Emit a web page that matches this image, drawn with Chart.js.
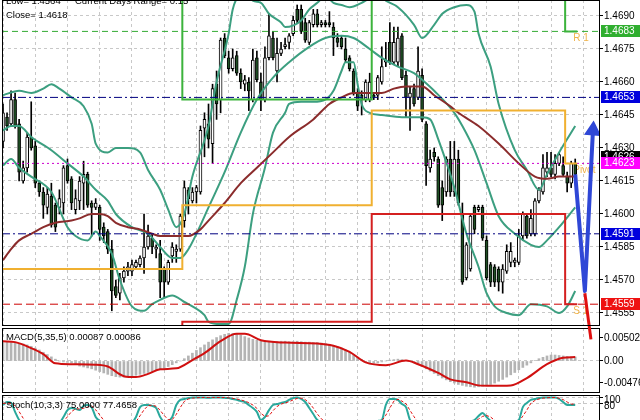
<!DOCTYPE html>
<html>
<head>
<meta charset="utf-8">
<script src="https://cdn.jsdelivr.net/npm/chart.js@4.4.0/dist/chart.umd.min.js"></script>
<style>
  html, body { margin: 0; padding: 0; background: #fff; width: 640px; height: 420px; overflow: hidden; position: relative; }
  canvas { position: absolute; left: 0; }
  #main { top: 0; z-index: 3; }
  #macd { top: 328px; z-index: 1; }
  #stoch { top: 395px; z-index: 1; }
  .info { position: absolute; left: 6px; font: 9.5px "Liberation Sans", Arial, sans-serif; line-height: 12px; color: #000; z-index: 4; white-space: pre; }
</style>
</head>
<body>
<canvas id="main" width="640" height="346"></canvas>
<canvas id="macd" width="640" height="65"></canvas>
<canvas id="stoch" width="640" height="38"></canvas>
<div class="info" style="top:-5px">Low= 1.4564</div>
<div class="info" style="top:-5px;left:75px">Current Days Range= 0.15</div>
<div class="info" style="top:9px">Close= 1.4618</div>
<div class="info" style="top:331px">MACD(5,35,5) 0.00087 0.00086</div>
<div class="info" style="top:399px">Stoch(10,3,3) 75.0000 77.4658</div>
<script>
// ---- price candles (one per 30 min bar) ----
const opens = [
  1.4633,1.4644,1.4641,1.4652,1.4641,1.4615,1.4621,1.4635,1.4631,1.4614,
  1.4610,1.4603,1.4608,1.4604,1.4603,1.4605,1.4622,1.4616,1.4602,1.4606,
  1.4614,1.4618,1.4605,1.4603,1.4603,1.4594,1.4592,1.4584,1.4567,1.4564,
  1.4571,1.4574,1.4574,1.4576,1.4577,1.4580,1.4585,1.4589,1.4584,1.4582,
  1.4575,1.4569,1.4581,1.4583,1.4584,1.4597,1.4611,1.4606,1.4610,1.4610,
  1.4639,1.4641,1.4632,1.4659,1.4652,1.4680,1.4671,1.4666,1.4672,1.4664,
  1.4659,1.4660,1.4652,1.4671,1.4660,1.4652,1.4671,1.4680,1.4665,1.4673,
  1.4676,1.4678,1.4682,1.4693,1.4693,1.4687,1.4678,1.4686,1.4691,1.4686,
  1.4687,1.4687,1.4685,1.4680,1.4680,1.4675,1.4671,1.4665,1.4655,1.4654,
  1.4652,1.4652,1.4654,1.4654,1.4660,1.4669,1.4678,1.4669,1.4669,1.4681,
  1.4663,1.4653,1.4657,1.4653,1.4663,1.4641,1.4621,1.4628,1.4625,1.4612,
  1.4610,1.4625,1.4610,1.4625,1.4600,1.4571,1.4575,1.4603,1.4602,1.4603,
  1.4588,1.4577,1.4576,1.4575,1.4569,1.4574,1.4578,1.4578,1.4578,1.4590,
  1.4599,1.4591,1.4591,1.4606,1.4610,1.4619,1.4621,1.4618,1.4623,1.4622,
  1.4617,1.4614,1.4623
];
const highs = [
  1.4650,1.4646,1.4656,1.4655,1.4643,1.4624,1.4637,1.4651,1.4633,1.4615,
  1.4612,1.4612,1.4614,1.4605,1.4611,1.4622,1.4625,1.4617,1.4611,1.4617,
  1.4624,1.4619,1.4606,1.4607,1.4604,1.4596,1.4593,1.4588,1.4570,1.4573,
  1.4576,1.4578,1.4579,1.4579,1.4581,1.4600,1.4595,1.4591,1.4586,1.4588,
  1.4576,1.4579,1.4587,1.4586,1.4600,1.4615,1.4612,1.4612,1.4613,1.4640,
  1.4646,1.4650,1.4659,1.4665,1.4680,1.4682,1.4674,1.4675,1.4674,1.4666,
  1.4663,1.4662,1.4675,1.4674,1.4664,1.4676,1.4691,1.4683,1.4680,1.4678,
  1.4680,1.4682,1.4690,1.4695,1.4695,1.4689,1.4688,1.4693,1.4693,1.4688,
  1.4688,1.4692,1.4687,1.4682,1.4681,1.4680,1.4672,1.4666,1.4657,1.4656,
  1.4661,1.4664,1.4655,1.4663,1.4676,1.4678,1.4687,1.4685,1.4685,1.4682,
  1.4665,1.4658,1.4659,1.4676,1.4666,1.4642,1.4629,1.4630,1.4626,1.4615,
  1.4626,1.4633,1.4633,1.4629,1.4605,1.4587,1.4600,1.4604,1.4604,1.4604,
  1.4590,1.4578,1.4577,1.4576,1.4577,1.4586,1.4587,1.4580,1.4593,1.4601,
  1.4600,1.4602,1.4607,1.4612,1.4627,1.4628,1.4628,1.4627,1.4628,1.4626,
  1.4619,1.4624,1.4625
];
const lows = [
  1.4630,1.4638,1.4640,1.4639,1.4615,1.4614,1.4619,1.4629,1.4612,1.4608,
  1.4598,1.4600,1.4594,1.4592,1.4600,1.4600,1.4614,1.4602,1.4600,1.4602,
  1.4602,1.4603,1.4590,1.4602,1.4588,1.4587,1.4582,1.4556,1.4562,1.4561,
  1.4569,1.4572,1.4572,1.4575,1.4576,1.4573,1.4584,1.4582,1.4580,1.4562,
  1.4562,1.4568,1.4578,1.4578,1.4583,1.4594,1.4600,1.4605,1.4605,1.4609,
  1.4626,1.4630,1.4623,1.4643,1.4646,1.4671,1.4664,1.4665,1.4663,1.4657,
  1.4656,1.4647,1.4651,1.4660,1.4647,1.4651,1.4670,1.4670,1.4660,1.4672,
  1.4675,1.4675,1.4681,1.4687,1.4682,1.4678,1.4677,1.4685,1.4685,1.4685,
  1.4685,1.4685,1.4672,1.4676,1.4675,1.4669,1.4665,1.4654,1.4647,1.4645,
  1.4651,1.4651,1.4652,1.4652,1.4659,1.4667,1.4668,1.4668,1.4667,1.4661,
  1.4644,1.4638,1.4649,1.4652,1.4642,1.4613,1.4619,1.4624,1.4603,1.4597,
  1.4608,1.4608,1.4608,1.4604,1.4568,1.4570,1.4574,1.4591,1.4601,1.4588,
  1.4570,1.4567,1.4567,1.4565,1.4564,1.4573,1.4576,1.4576,1.4577,1.4588,
  1.4589,1.4590,1.4590,1.4605,1.4609,1.4617,1.4617,1.4616,1.4622,1.4617,
  1.4610,1.4612,1.4617
];
const closes = [
  1.4646,1.4640,1.4652,1.4640,1.4619,1.4621,1.4635,1.4630,1.4614,1.4610,
  1.4604,1.4609,1.4595,1.4594,1.4607,1.4621,1.4615,1.4605,1.4607,1.4615,
  1.4618,1.4604,1.4603,1.4605,1.4593,1.4590,1.4584,1.4565,1.4563,1.4571,
  1.4574,1.4576,1.4577,1.4578,1.4580,1.4585,1.4590,1.4585,1.4585,1.4569,
  1.4569,1.4578,1.4585,1.4584,1.4599,1.4612,1.4607,1.4610,1.4612,1.4638,
  1.4643,1.4634,1.4657,1.4650,1.4679,1.4672,1.4666,1.4671,1.4664,1.4660,
  1.4661,1.4656,1.4670,1.4661,1.4652,1.4671,1.4681,1.4671,1.4673,1.4675,
  1.4677,1.4681,1.4688,1.4688,1.4683,1.4679,1.4687,1.4691,1.4686,1.4687,
  1.4686,1.4686,1.4680,1.4678,1.4676,1.4670,1.4666,1.4655,1.4649,1.4652,
  1.4660,1.4660,1.4653,1.4662,1.4667,1.4670,1.4669,1.4678,1.4680,1.4662,
  1.4653,1.4655,1.4650,1.4665,1.4643,1.4622,1.4625,1.4626,1.4604,1.4604,
  1.4625,1.4610,1.4625,1.4605,1.4569,1.4586,1.4599,1.4593,1.4603,1.4589,
  1.4571,1.4569,1.4569,1.4569,1.4575,1.4583,1.4583,1.4579,1.4590,1.4600,
  1.4590,1.4598,1.4606,1.4611,1.4621,1.4621,1.4618,1.4623,1.4627,1.4618,
  1.4614,1.4623,1.4618
];

// ---- bollinger bands, sampled at bar numbers ----
const upperBars = [0,4,7,10,12,14,17,20,22,23,26,28,31,34,36,39,41,43,45,47,51,53,56,57,59,60,62,64,66,69,
  70,74,76,78,80,82,84,86,89,90,93,95,98,102,104,107,109,112,115,117,118,121,123,127,130,133,135,138,142];
const upperBand = [1.4654,1.4656,1.4655,1.4657,1.4659,1.4657,1.4653,1.4649,1.4641,1.4632,
  1.4628,1.4630,1.4630,1.4628,1.4620,1.4611,1.4602,1.4594,1.4600,1.4617,
  1.4640,1.4660,1.4682,1.4693,1.4701,1.4703,1.4697,1.4696,1.4691,1.4687,
  1.4685,1.4688,1.4693,1.4696,1.4699,1.4696,1.4695,1.4694,1.4696,1.4697,
  1.4700,1.4697,1.4694,1.4686,1.4680,1.4686,1.4691,1.4694,1.4695,1.4692,
  1.4682,1.4667,1.4650,1.4629,1.4620,1.4611,1.4618,1.4628,1.4640];
const middleBars = [0,2,4,7,12,16,20,23,26,28,32,36,39,42,44,46,48,51,55,59,63,67,71,76,80,84,87,91,94,98,
  102,104,107,112,114,117,120,123,127,131,133,135,138,142];
const middleBand = [1.4638,1.4640,1.4640,1.4635,1.4629,1.4623,1.4617,1.4611,1.4606,1.4600,
  1.4594,1.4591,1.4585,1.4580,1.4580,1.4584,1.4591,1.4603,1.4619,1.4637,
  1.4652,1.4662,1.4669,1.4676,1.4680,1.4681,1.4680,1.4675,1.4671,1.4667,
  1.4664,1.4661,1.4656,1.4646,1.4640,1.4629,1.4614,1.4599,1.4591,1.4586,
  1.4585,1.4588,1.4594,1.4603];
const lowerBars = [0,2,4,7,12,16,18,21,23,24,27,29,32,35,37,39,42,45,47,50,51,54,56,58,60,62,65,67,70,71,
  74,77,80,82,84,85,87,88,89,91,94,99,104,106,108,112,115,118,120,122,125,128,131,135,138,140,142];
const lowerBand = [1.4622,1.4625,1.4621,1.4617,1.4610,1.4594,1.4590,1.4588,1.4592,1.4590,
  1.4582,1.4570,1.4558,1.4556,1.4559,1.4561,1.4563,1.4560,1.4558,1.4554,
  1.4551,1.4550,1.4550,1.4561,1.4576,1.4600,1.4621,1.4637,1.4646,1.4650,
  1.4651,1.4651,1.4652,1.4656,1.4665,1.4669,1.4669,1.4659,1.4650,1.4646,
  1.4645,1.4644,1.4644,1.4643,1.4634,1.4612,1.4591,1.4576,1.4564,1.4558,
  1.4555,1.4554,1.4559,1.4558,1.4555,1.4558,1.4565];

// ---- moving average ----
const maBars = [0,2,4,7,10,13,17,19,22,24,26,28,31,34,37,39,41,44,46,49,51,55,59,63,67,71,77,81,84,87,
  90,94,97,100,104,107,111,113,118,123,128,132,135,138,142];
const maLine = [1.4579,1.4584,1.4588,1.4591,1.4594,1.4596,1.4597,1.4598,1.4600,1.4600,
  1.4599,1.4596,1.4594,1.4593,1.4591,1.4590,1.4590,1.4590,1.4590,1.4593,
  1.4597,1.4605,1.4614,1.4621,1.4628,1.4635,1.4643,1.4650,1.4653,1.4655,
  1.4655,1.4655,1.4657,1.4658,1.4658,1.4654,1.4649,1.4646,1.4640,1.4632,
  1.4623,1.4617,1.4616,1.4617,1.4617];

// ---- daily pivot levels ----
const dayStarts = [0, 45, 92, 140];
const r1Levels = [1.4712, 1.4652, 1.4708, 1.4683];
const pivotLevels = [1.4575, 1.4604, 1.4647, 1.4623];
const s1Levels = [1.4530, 1.4551, 1.4600, 1.4559];
const pivotNames = ['R 1', 'Pivot', 'S 1'];

// ---- horizontal lines and price tags ----
const levelPrices = [1.4683, 1.4653, 1.4623, 1.4591, 1.4559];
const tagPrices = [1.4683, 1.4653, 1.4626, 1.4623, 1.4591, 1.4559];
const priceTicks = [1.4555, 1.4570, 1.4585, 1.4600, 1.4615, 1.4630, 1.4645, 1.4660, 1.4675, 1.4690];

// ---- forecast arrows ----
const upArrowBars = [142, 144.4, 146.4];
const upArrowVals = [1.4618, 1.4565, 1.4638];
const downArrowBars = [144.4, 145.9];
const downArrowVals = [1.4564, 1.4543];

// ---- MACD ----
const macdHist = [
  0.0040,0.0041,0.0040,0.0039,0.0038,0.0037,
  0.0035,0.0032,0.0028,0.0024,0.0019,0.0014,0.0009,0.0004,
  0.0000,-0.0002,-0.0003,-0.0004,
  -0.0008,-0.0011,-0.0013,-0.0015,-0.0017,-0.0020,-0.0023,-0.0026,
  -0.0029,-0.0032,-0.0034,-0.0035,-0.0035,-0.0034,-0.0033,-0.0031,
  -0.0029,-0.0027,-0.0025,-0.0023,-0.0021,-0.0019,-0.0016,-0.0012,-0.0008,
  -0.0004,0.0000,0.0005,
  0.0011,0.0017,0.0023,0.0029,0.0035,0.0041,0.0046,0.0051,0.0055,
  0.0058,0.0060,0.0060,0.0059,0.0056,0.0053,
  0.0050,0.0047,0.0045,0.0044,
  0.0043,0.0043,0.0042,0.0042,0.0043,0.0043,0.0042,0.0042,0.0043,0.0042,0.0041,0.0041,0.0040,0.0040,0.0039,0.0038,
  0.0036,0.0034,0.0031,0.0028,0.0024,0.0019,0.0014,0.0008,
  0.0003,-0.0002,-0.0004,-0.0005,-0.0004,-0.0002,0.0000,
  0.0002,0.0003,0.0004,0.0003,0.0001,-0.0001,
  -0.0004,-0.0008,-0.0012,-0.0017,-0.0022,-0.0027,-0.0032,-0.0037,-0.0041,
  -0.0045,-0.0048,-0.0051,-0.0053,-0.0055,-0.0056,-0.0057,-0.0056,-0.0055,-0.0053,-0.0051,
  -0.0048,-0.0044,-0.0040,-0.0035,-0.0030,-0.0025,-0.0019,
  -0.0014,-0.0009,-0.0004,0.0001,0.0005,0.0008,
  0.0011,0.0013,0.0013,0.0012,0.0011,0.0010,0.0009,0.00087
];
const signalBars = [0,3,7,10,13,17,23,26,30,33,36,39,43,47,50,54,58,60,64,70,
  78,82,86,90,95,100,103,108,111,115,118,121,126,130,135,139,142];
const macdSignal = [0.0043,0.0041,0.0028,0.0015,-0.0005,-0.0007,-0.0008,-0.0012,-0.0033,-0.0035,
  -0.0028,-0.0018,-0.0016,0.0002,0.0017,0.0043,0.0059,0.0059,0.0045,0.0040,
  0.0038,0.0033,0.0020,-0.0003,-0.0009,0.0001,-0.0007,-0.0026,-0.0040,-0.0046,
  -0.0053,-0.0054,-0.0053,-0.0037,-0.0007,0.0007,0.00086];
const macdTicks = [-0.00476, 0, 0.00502];

// ---- Stochastic ----
const stochMain = [
  75,85,82,52,25,15,8,5,10,5, 3,8,12,10,15,35,58,65,62,58,
  72,75,68,35,22,15,8,5,3,2, 5,8,15,35,68,75,75,72,65,35,
  20,22,35,75,92,95,98,100,100,100, 100,99,100,100,100,99,98,95,92,88,
  85,75,65,52,25,35,58,75,78,82, 85,92,98,100,95,85,65,45,25,18,
  12,8,5,8,15,10,5,3,2,5, 10,15,20,22,25,75,95,95,92,78,
  68,25,15,8,5,3,5,8,12,10, 5,3,2,5,10,15,20,25,38,48,
  35,22,15,10,8,10,15,20,25,68, 82,92,95,98,100,100,100,100,95,85,
  75,75,75
];
const stochSignal = [
  80,82,80,73,53,31,16,9,8,7, 6,5,8,10,12,20,36,53,62,62,
  64,68,72,59,42,24,15,9,5,3, 3,5,9,19,39,59,73,74,71,57,
  40,26,26,44,67,87,95,98,99,100, 100,100,100,100,100,100,99,97,95,92,
  88,83,75,64,47,37,39,56,70,78, 82,86,92,97,98,93,82,65,45,29,
  18,13,8,7,9,11,10,6,3,3, 6,10,15,19,22,41,65,88,94,88,
  79,57,36,16,9,5,4,5,8,10, 9,6,3,3,6,10,15,20,28,37,
  40,35,24,16,11,9,11,15,20,38, 58,81,90,95,98,99,100,100,98,93,
  85,78,77.4658
];
const stochTicks = [80, 100];

// ---------------------------------------------------------------
Chart.defaults.font.family = '"Liberation Sans", Arial, sans-serif';
Chart.defaults.font.size = 10;
Chart.defaults.color = '#000';

const bars = opens.map((_, i) => i);
const lastBar = bars[bars.length - 1];
const xMin = -0.25, xMax = 148.15;
const pts = (xs, ys) => xs.map((x, k) => ({ x: x, y: ys[k] }));

function stepData(levels) {
  const out = [];
  levels.forEach((v, k) => {
    const a = dayStarts[k] - 0.5;
    const b = k + 1 < dayStarts.length ? dayStarts[k + 1] - 0.5 : lastBar + 0.5;
    out.push({ x: a, y: v }, { x: b, y: v });
  });
  return out;
}

function line(data, color, width, order, extra) {
  return Object.assign({ type: 'line', data: data, borderColor: color, borderWidth: width,
    pointRadius: 0, fill: false, order: order }, extra || {});
}

const xScale = () => ({
  type: 'linear', min: xMin, max: xMax, offset: false,
  afterBuildTicks: s => { s.ticks = bars.filter(i => i % 8 === 0).concat([144]).map(v => ({ value: v })); },
  ticks: { display: false },
  grid: { color: '#c8c8c8', drawTicks: false, offset: false },
  border: { display: false, dash: [3, 3] }
});

// right axis with fixed width and no label overhang padding
const yRight = (min, max, ticks, fmt, extra) => Object.assign({
  position: 'right', min: min, max: max,
  afterBuildTicks: s => { s.ticks = ticks.map(v => ({ value: v })); },
  afterFit: s => { s.width = 40; s.paddingTop = 0; s.paddingBottom = 0; },
  ticks: { padding: 1, callback: fmt, font: { size: 10 } },
  grid: { color: '#c8c8c8', drawTicks: true, tickLength: 3, tickColor: '#000', tickBorderDash: [] },
  border: { display: false, dash: [3, 3] }
}, extra || {});

const frame = {
  id: 'frame',
  afterDraw(c) {
    const a = c.chartArea, ctx = c.ctx;
    ctx.save();
    ctx.strokeStyle = '#000';
    ctx.lineWidth = 1;
    ctx.strokeRect(a.left + 0.5, a.top + 0.5, a.right - a.left - 1, a.bottom - a.top - 1);
    ctx.restore();
  }
};

const tagColors = ['#2fae2f', '#0000dd', '#000000', '#ff00ff', '#0000dd', '#ee1111'];
const priceTags = {
  id: 'priceTags',
  beforeDatasetsDraw(c) {
    const ctx = c.ctx, xs = c.scales.x, ys = c.scales.y;
    const lv = [r1Levels, pivotLevels, s1Levels].map(a => a[a.length - 1]);
    ctx.save();
    ctx.font = '10px "Liberation Sans", Arial, sans-serif';
    ctx.fillStyle = '#f0b34a';
    ctx.textBaseline = 'middle';
    lv.forEach((v, k) => ctx.fillText(pivotNames[k], xs.getPixelForValue(lastBar) - 2, ys.getPixelForValue(v) + 7));
    ctx.restore();
  },
  afterDraw(c) {
    const ctx = c.ctx, ys = c.scales.y, r = c.chartArea.right;
    ctx.save();
    ctx.font = '10px "Liberation Sans", Arial, sans-serif';
    ctx.textBaseline = 'middle';
    tagPrices.forEach((v, k) => {
      const py = Math.round(ys.getPixelForValue(v));
      ctx.fillStyle = tagColors[k];
      ctx.fillRect(r + 1, py - 6, 40, 12);
      ctx.fillStyle = '#fff';
      ctx.fillText(v.toFixed(4), r + 4, py + 0.5);
    });
    ctx.restore();
  }
};

const common = {
  responsive: false, animation: false, events: [],
  plugins: { legend: { display: false }, tooltip: { enabled: false } }
};
const panelLayout = bottom => ({ autoPadding: false, padding: { left: 2, right: 0, top: 0, bottom: bottom } });

// ---- main price panel ----
const levelColors = ['#33aa33', '#000080', '#cc00cc', '#000080', '#cc0000'];
const levelDash = [[6, 4], [8, 3, 2, 3], [2, 3], [8, 3, 2, 3], [8, 4]];
const levelSets = levelPrices.map((p, k) =>
  line([{ x: xMin, y: p }, { x: xMax, y: p }], levelColors[k], 1, 8, { borderDash: levelDash[k] }));

const bodyUp = bars.filter(i => closes[i] >= opens[i]).map(i => ({ x: i, y: [opens[i], closes[i]] }));
const bodyDown = bars.filter(i => closes[i] < opens[i]).map(i => ({ x: i, y: [closes[i], opens[i]] }));

new Chart(document.getElementById('main'), {
  type: 'line',
  data: {
    datasets: [
      { type: 'bar', data: bars.map(i => ({ x: i, y: [lows[i], highs[i]] })), backgroundColor: '#000',
        barThickness: 1, grouped: false, order: 20 },
      { type: 'bar', data: bodyUp, backgroundColor: '#ffffff', borderColor: '#000', borderWidth: 1,
        borderSkipped: false, barThickness: 3, grouped: false, order: 19 },
      { type: 'bar', data: bodyDown, backgroundColor: '#1f4f24', borderColor: '#000', borderWidth: 1,
        borderSkipped: false, barThickness: 3, grouped: false, order: 19 },
      line(pts(upperBars, upperBand), '#3c9f80', 2, 10, { cubicInterpolationMode: 'monotone' }),
      line(pts(middleBars, middleBand), '#3c9f80', 2, 10, { cubicInterpolationMode: 'monotone' }),
      line(pts(lowerBars, lowerBand), '#3c9f80', 2, 10, { cubicInterpolationMode: 'monotone' }),
      line(pts(maBars, maLine), '#8b2c2c', 2, 9, { cubicInterpolationMode: 'monotone' }),
      ...levelSets,
      line(stepData(pivotLevels), '#f0b030', 2, 7),
      line(stepData(r1Levels), '#3cb33c', 2, 7),
      line(stepData(s1Levels), '#d42020', 2, 7),
      line(pts(upArrowBars, upArrowVals), '#2f47d6', 4, 1, {
        pointRadius: [0, 0, 6], pointStyle: 'triangle', pointRotation: [0, 0, 4],
        pointBackgroundColor: '#2f47d6', pointBorderColor: '#2f47d6', borderJoinStyle: 'round' }),
      line(pts(downArrowBars, downArrowVals), '#e01010', 3, 1, {
        pointRadius: [0, 5], pointStyle: 'triangle', pointRotation: [0, 172],
        pointBackgroundColor: '#e01010', pointBorderColor: '#e01010',
        clip: { left: 0, top: 0, right: 0, bottom: 20 } })
    ]
  },
  options: Object.assign({}, common, {
    layout: panelLayout(20),
    scales: {
      x: xScale(),
      y: yRight(1.454909, 1.469727, priceTicks, v => v.toFixed(4))
    }
  }),
  plugins: [frame, priceTags]
});

// ---- MACD panel ----
new Chart(document.getElementById('macd'), {
  type: 'line',
  data: {
    datasets: [
      { type: 'bar', data: bars.map(i => ({ x: i, y: macdHist[i] })), backgroundColor: '#b4b4b4',
        barThickness: 2, grouped: false, order: 5 },
      line(pts(signalBars, macdSignal), '#d01010', 2, 1, { cubicInterpolationMode: 'monotone' })
    ]
  },
  options: Object.assign({}, common, {
    layout: panelLayout(0),
    scales: {
      x: xScale(),
      y: yRight(-0.006957, 0.007174, macdTicks, v => (v === 0 ? '0.00' : v.toFixed(5)), {
        grid: { color: c => (c.tick && c.tick.value === 0 ? '#c8c8c8' : 'rgba(0,0,0,0)'),
          drawTicks: true, tickLength: 3, tickColor: '#000', tickBorderDash: [] }
      })
    }
  }),
  plugins: [frame]
});

// ---- Stochastic panel ----
new Chart(document.getElementById('stoch'), {
  type: 'line',
  data: {
    datasets: [
      line(bars.map(i => ({ x: i, y: stochMain[i] })), '#2aa89c', 2, 2, { cubicInterpolationMode: 'monotone' }),
      line(bars.map(i => ({ x: i, y: stochSignal[i] })), '#e01010', 1, 1, { borderDash: [3, 2] })
    ]
  },
  options: Object.assign({}, common, {
    layout: panelLayout(0),
    scales: {
      x: xScale(),
      y: yRight(-18.33, 108.33, stochTicks, v => String(v), {
        ticks: { padding: 1, labelOffset: 3, font: { size: 10 }, callback: v => String(v) }
      })
    }
  }),
  plugins: [frame]
});
</script>
</body>
</html>
